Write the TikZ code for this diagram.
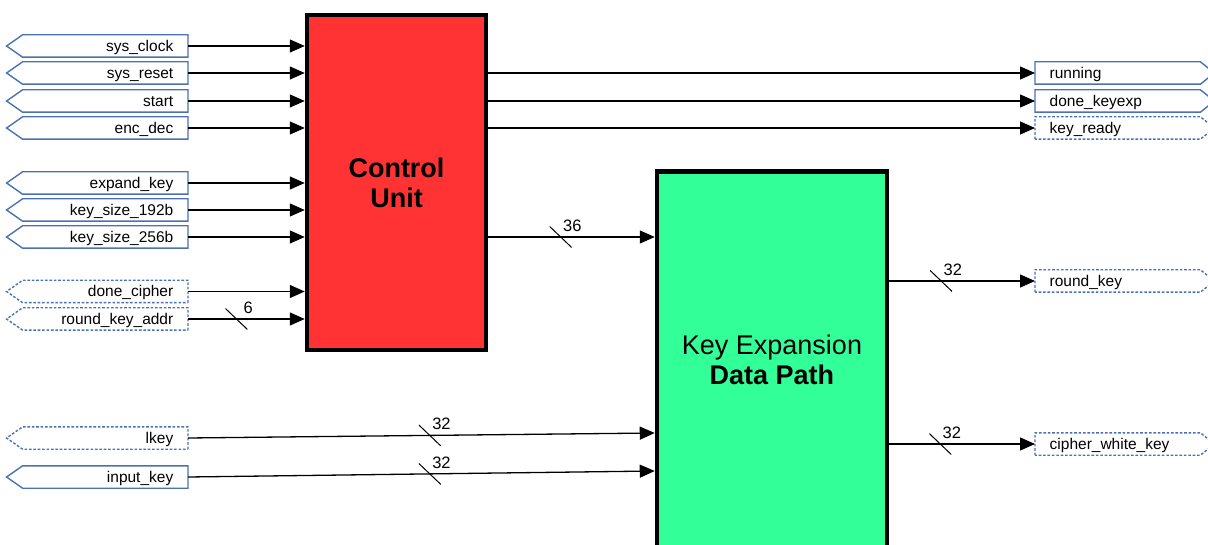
\documentclass[tikz,border=0pt]{standalone}
\usepackage{fontspec}
\setmainfont{Liberation Sans}
\usetikzlibrary{arrows.meta}
\definecolor{cured}{HTML}{FF3333}
\definecolor{kxgreen}{HTML}{33FF99}
\definecolor{portblue}{HTML}{4A72B2}
\tikzset{
 portbody/.style={minimum width=165pt, minimum height=22pt, inner ysep=0pt, text width=136pt, text height=11pt, text depth=0pt, font=\fontsize{15.5}{18}\selectfont},
 inbody/.style={portbody, anchor=east, align=right, inner xsep=14.5pt},
 outbody/.style={portbody, anchor=west, align=left, inner xsep=14.5pt},
 portedge/.style={draw=portblue, line width=1.4pt, line join=miter},
 dotport/.style={dash pattern=on 2.6pt off 1.8pt},
 solidport/.style={},
 sig/.style={draw=black, line width=1.3pt, -{Triangle[length=15pt,width=13pt]}},
 busslash/.style={minimum width=22pt, minimum height=21pt, inner sep=0pt, path picture={\draw[-, black, line width=1pt] (path picture bounding box.north west) -- (path picture bounding box.south east);}},
 buslabel/.style={font=\fontsize{16.5}{19}\selectfont, anchor=center, inner sep=0pt},
 block/.style={draw=black, line width=4.5pt},
}
\newcommand\inport[4]{%
 \node[inbody] (#1) at (188,#2) {#3};
 \draw[portedge,#4] (#1.south east) -- (#1.north east) -- (#1.north west) -- ([xshift=-16pt]#1.west) -- (#1.south west) -- cycle;}
\newcommand\outport[4]{%
 \node[outbody] (#1) at (1035,#2) {#3};
 \draw[portedge,#4] (#1.south west) -- (#1.north west) -- (#1.north east) -- ([xshift=14pt]#1.east) -- (#1.south east) -- cycle;}
\begin{document}
\begin{tikzpicture}[x=1pt,y=-1pt]
\useasboundingbox (0,0) rectangle (1208,545);
\clip (0,0) rectangle (1208,545);
% blocks
\node[block, fill=cured, minimum width=179pt, minimum height=335pt, align=center,
  font=\bfseries\fontsize{27}{30}\selectfont] (cu) at (396.5,182.5) {Control\\Unit};
\node[block, fill=kxgreen, minimum width=230pt, minimum height=377pt, align=center,
  font=\fontsize{27}{30}\selectfont] (kx) at (772,360) {Key Expansion\\\textbf{Data Path}};
% input ports
\inport{clk}{46}{sys\_clock}{solidport}
\inport{rst}{73}{sys\_reset}{solidport}
\inport{start}{101}{start}{solidport}
\inport{encdec}{128}{enc\_dec}{solidport}
\inport{expk}{183}{expand\_key}{solidport}
\inport{ks192}{210}{key\_size\_192b}{solidport}
\inport{ks256}{237}{key\_size\_256b}{solidport}
\inport{donec}{291.5}{done\_cipher}{dotport}
\inport{rka}{319}{round\_key\_addr}{dotport}
\inport{lkey}{438}{lkey}{dotport}
\inport{ikey}{477}{input\_key}{solidport}
% output ports
\outport{running}{73}{running}{solidport}
\outport{donek}{101}{done\_keyexp}{solidport}
\outport{kready}{128}{key\_ready}{dotport}
\outport{rkey}{281}{round\_key}{dotport}
\outport{cwk}{444}{cipher\_white\_key}{dotport}
% inputs to control unit
\foreach \p in {clk,rst,start,encdec,expk,ks192,ks256,donec}
  \draw[sig] (\p.east) -- (\p.east -| cu.west);
\draw[sig] (rka.east) -- node[busslash, pos=0.415, label={[buslabel]north east:6}] (s6) {} (rka.east -| cu.west);
% outputs of control unit
\foreach \p in {running,donek,kready}
  \draw[sig] (cu.east |- \p.west) -- (\p.west);
\coordinate (b36) at (600,237);
\draw[sig] (cu.east |- b36) -- node[busslash, pos=0.435, label={[buslabel]north east:36}] (s36) {} (kx.west |- b36);
% key inputs
\coordinate (kl) at (700,433);
\coordinate (ki) at (700,471);
\draw[sig] (lkey.east) -- node[busslash, pos=0.518, label={[buslabel]north east:32}] (s32a) {} (kx.west |- kl);
\draw[sig] (ikey.east) -- node[busslash, pos=0.518, label={[buslabel]north east:32}] (s32b) {} (kx.west |- ki);
% key expansion outputs
\draw[sig] (kx.east |- rkey.west) -- node[busslash, pos=0.356, label={[buslabel]north east:32}] (s32c) {} (rkey.west);
\draw[sig] (kx.east |- cwk.west) -- node[busslash, pos=0.35, label={[buslabel]north east:32}] (s32d) {} (cwk.west);
\end{tikzpicture}
\end{document}
